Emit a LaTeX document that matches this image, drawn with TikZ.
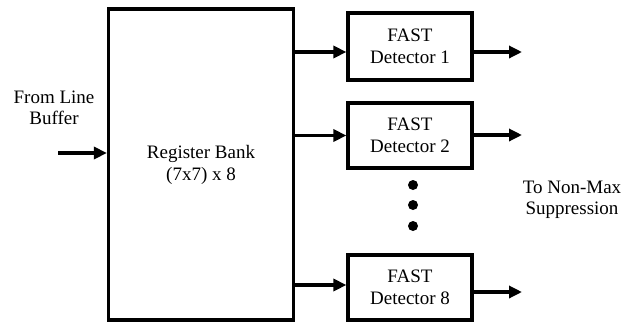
\documentclass[tikz,border=0pt]{standalone}
\usepackage{fontspec}
\setmainfont{Liberation Serif}
\usetikzlibrary{arrows.meta,calc}
\begin{document}
\begin{tikzpicture}[x=1pt,y=-1pt,
  box/.style={draw,line width=3.2pt,rectangle,align=center,inner sep=0pt,
    font=\fontsize{19}{22}\selectfont},
  lbl/.style={align=center,inner sep=0pt,font=\fontsize{19}{21.5}\selectfont},
  arr/.style={line width=3.2pt,-{Triangle[length=13pt,width=12pt]}},
  dot/.style={circle,fill=black,inner sep=0pt,minimum size=10pt}]
\useasboundingbox (0,0) rectangle (631,322);
\node[box,minimum width=185pt,minimum height=311pt] (bank) at (201,164.5) {Register Bank\\(7x7) x 8};
\node[box,minimum width=124pt,minimum height=67pt] (d1) at (410,46.5) {FAST\\Detector 1};
\node[box,minimum width=124pt,minimum height=65pt] (d2) at (410,135.5) {FAST\\Detector 2};
\node[box,minimum width=124pt,minimum height=65pt] (d8) at (410,287.5) {FAST\\Detector 8};
\node[lbl] (src) at (54,108) {From Line\\Buffer};
\node[lbl] (dst) at (572,200) {To Non-Max\\Suppression};
\node[dot] (p1) at (413,185) {};
\node[dot] (p2) at (413,205) {};
\node[dot] (p3) at (413,226) {};
\coordinate (in) at (58,153);
\coordinate (o1) at (522,52);
\coordinate (o2) at (522,135);
\coordinate (o8) at (522,292);
\draw[arr] (in) -- (bank.west |- in);
\draw[arr] ([yshift=-5.5pt]d1.west -| bank.east) -- ([yshift=-5.5pt]d1.west);
\draw[arr] (d2.west -| bank.east) -- (d2.west);
\draw[arr] ([yshift=2.5pt]d8.west -| bank.east) -- ([yshift=2.5pt]d8.west);
\draw[arr] (d1.east |- o1) -- (o1);
\draw[arr] (d2.east |- o2) -- (o2);
\draw[arr] (d8.east |- o8) -- (o8);
\end{tikzpicture}
\end{document}
